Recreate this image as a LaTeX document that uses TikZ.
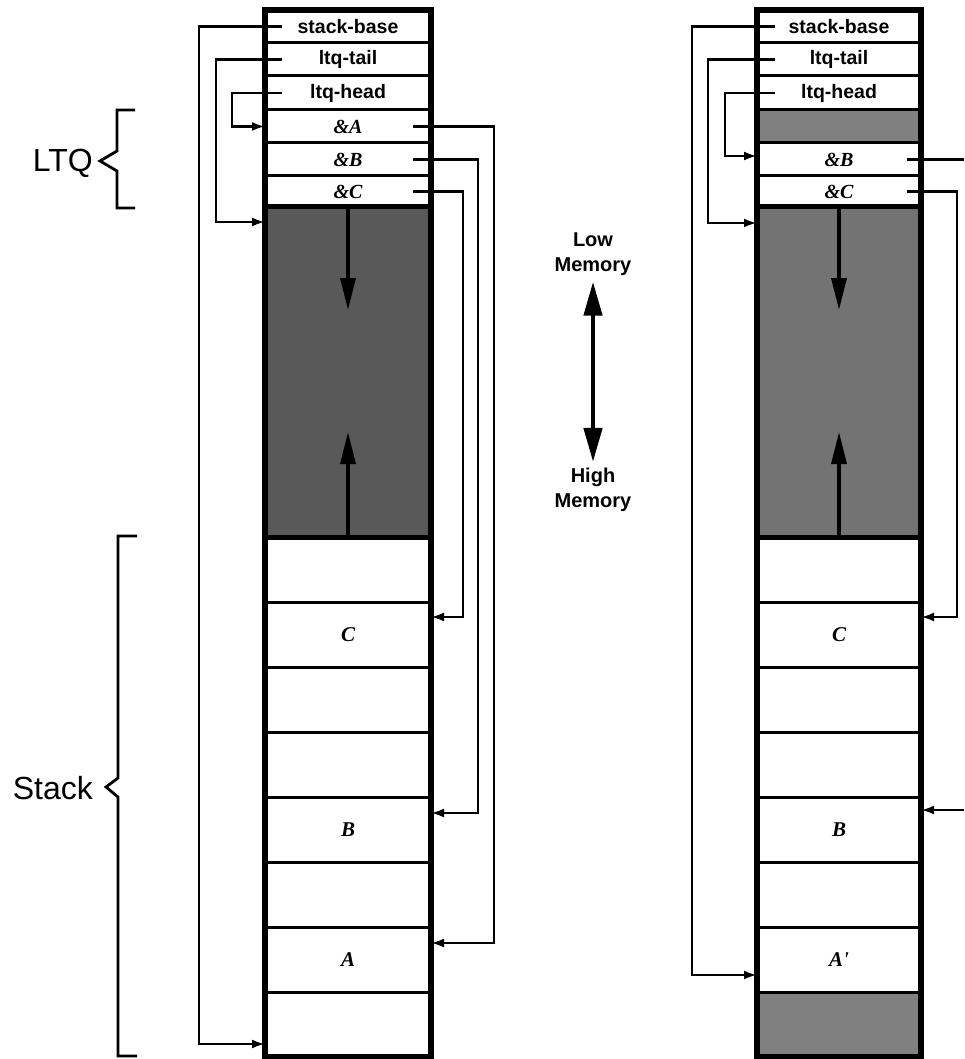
\documentclass[tikz,border=0pt]{standalone}
\usepackage{fontspec}
\setmainfont{Liberation Sans}
\newfontfamily\tms{Liberation Serif}
\usetikzlibrary{arrows.meta}
\begin{document}
\begin{tikzpicture}[x=1pt,y=-1pt,
  cell/.style={draw, line width=3pt, minimum width=166pt, outer sep=0pt, inner sep=0pt,
    font=\fontsize{19.5}{19.5}\selectfont\bfseries},
  ptr/.style={cell, font=\fontsize{20}{20}\selectfont\tms\bfseries\itshape},
  obj/.style={cell, font=\fontsize{21}{21}\selectfont\tms\bfseries\itshape},
  freeL/.style={draw, line width=5pt, minimum width=166pt, outer sep=0pt, fill=black!65},
  freeR/.style={draw, line width=5pt, minimum width=164pt, outer sep=0pt, fill=black!55},
  gapR/.style={cell, minimum width=164pt, fill=black!50},
  colframe/.style={line width=5.5pt},
  conn/.style={line width=2.5pt, -{Latex[length=13pt,width=9pt]}},
  link/.style={line width=2.5pt},
  growarrow/.style={line width=3.5pt, -{Triangle[length=32pt,width=15pt]}},
  brace/.style={line width=2.8pt, line join=miter},
  big/.style={font=\fontsize{32}{32}\selectfont, inner sep=0pt},
  mem/.style={font=\fontsize{20}{25}\selectfont\bfseries, align=center, inner sep=0pt},
]
\useasboundingbox (0,0) rectangle (964,1059);

% ---------------- left column ----------------
\node[cell, minimum height=33pt] (Lsb)   at (348,26.5)  {stack-base};
\node[cell, minimum height=33pt] (Ltail) at (348,59.5)  {ltq-tail};
\node[cell, minimum height=34pt] (Lhead) at (348,93)    {ltq-head};
\node[ptr,  minimum height=33pt] (LA)    at (348,126.5) {\&A};
\node[ptr,  minimum height=33pt] (LB)    at (348,159.5) {\&B};
\node[ptr,  minimum height=31pt] (LC)    at (348,191.5) {\&C};
\node[freeL, minimum height=330pt] (Lfree) at (348,372) {};
\node[cell, minimum height=65pt] (L1) at (348,569.5) {};
\node[obj,  minimum height=65pt] (L2) at (348,634.5) {C};
\node[cell, minimum height=65pt] (L3) at (348,699.5) {};
\node[cell, minimum height=65pt] (L4) at (348,764.5) {};
\node[obj,  minimum height=65pt] (L5) at (348,829.5) {B};
\node[cell, minimum height=65pt] (L6) at (348,894.5) {};
\node[obj,  minimum height=65pt] (L7) at (348,959.5) {A};
\node[cell, minimum height=65pt] (L8) at (348,1024.5) {};
\draw[colframe] (Lsb.north west) rectangle (L8.south east);
\draw[growarrow] (Lfree.north) -- ++(0,103);
\draw[growarrow] (Lfree.south) -- ++(0,-105);

\draw[conn] ([xshift=17pt]Lsb.west)   -- ++(-83,0) |- ([yshift=-52pt]L8.north west);
\draw[conn] ([xshift=17pt]Ltail.west) -- ++(-66,0) |- ([yshift=-15pt]Lfree.north west);
\draw[conn] ([xshift=17pt]Lhead.west) -- ++(-50,0) |- (LA.west);
\draw[conn] ([xshift=-18pt]LA.east) -- ++(81,0) |- ([yshift=-16pt]L7.north east);
\draw[conn] ([xshift=-18pt]LB.east) -- ++(65,0) |- ([yshift=-16pt]L5.north east);
\draw[conn] ([xshift=-18pt]LC.east) -- ++(50,0) |- ([yshift=-15pt]L2.north east);

% ---------------- right column ----------------
\node[cell, minimum width=164pt, minimum height=33pt] (Rsb)   at (839,26.5)  {stack-base};
\node[cell, minimum width=164pt, minimum height=33pt] (Rtail) at (839,59.5)  {ltq-tail};
\node[cell, minimum width=164pt, minimum height=34pt] (Rhead) at (839,93)    {ltq-head};
\node[gapR, minimum height=33pt] (Rgap) at (839,126.5) {};
\node[ptr,  minimum width=164pt, minimum height=33pt] (RB) at (839,159.5) {\&B};
\node[ptr,  minimum width=164pt, minimum height=31pt] (RC) at (839,191.5) {\&C};
\node[freeR, minimum height=330pt] (Rfree) at (839,372) {};
\node[cell, minimum width=164pt, minimum height=65pt] (R1) at (839,569.5) {};
\node[obj,  minimum width=164pt, minimum height=65pt] (R2) at (839,634.5) {C};
\node[cell, minimum width=164pt, minimum height=65pt] (R3) at (839,699.5) {};
\node[cell, minimum width=164pt, minimum height=65pt] (R4) at (839,764.5) {};
\node[obj,  minimum width=164pt, minimum height=65pt] (R5) at (839,829.5) {B};
\node[cell, minimum width=164pt, minimum height=65pt] (R6) at (839,894.5) {};
\node[obj,  minimum width=164pt, minimum height=65pt] (R7) at (839,959.5) {A'};
\node[gapR, minimum height=65pt] (R8) at (839,1024.5) {};
\draw[colframe] (Rsb.north west) rectangle (R8.south east);
\draw[growarrow] (Rfree.north) -- ++(0,103);
\draw[growarrow] (Rfree.south) -- ++(0,-105);

\coordinate (Rout) at (964,159.5);
\coordinate (Rin)  at (964,810);
\draw[conn] ([xshift=18pt]Rsb.west)   -- ++(-83,0) |- ([yshift=-48pt]R7.north west);
\draw[conn] ([xshift=18pt]Rtail.west) -- ++(-67,0) |- ([yshift=-16pt]Rfree.north west);
\draw[conn] ([xshift=18pt]Rhead.west) -- ++(-50,0) |- ([yshift=-13pt]RB.north west);
\draw[link] ([xshift=-14pt]RB.east) -- (Rout);
\draw[conn] (Rin) -- (Rin -| R5.east);
\draw[conn] ([xshift=-14pt]RC.east) -- ++(50,0) |- ([yshift=-15pt]R2.north east);

% ---------------- middle ----------------
\node[mem] (low)  at (593,254) {Low\\Memory};
\node[mem] (high) at (593,490) {High\\Memory};
\draw[line width=4.5pt, {Triangle[length=34pt,width=18pt]}-{Triangle[length=34pt,width=18pt]}]
  ([yshift=-6pt]low.south) -- ([yshift=6pt]high.north);

% ---------------- braces ----------------
\draw[brace] (135,110) -- (117,110) -- (117,151) -- (100,161) -- (117,171) -- (117,208) -- (135,208);
\node[big, anchor=east] (ltq) at (93,163) {LTQ};
\draw[brace] (137,536) -- (118,536) -- (118,778) -- (106,787) -- (118,797) -- (118,1056) -- (137,1056);
\node[big, anchor=east] (stk) at (93,788) {Stack};
\end{tikzpicture}
\end{document}
